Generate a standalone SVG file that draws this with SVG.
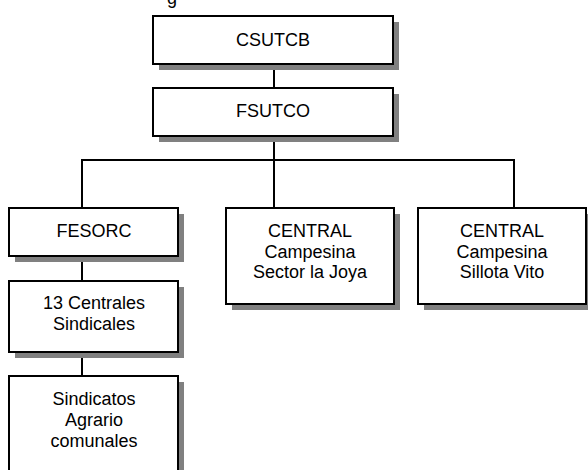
<svg xmlns="http://www.w3.org/2000/svg" width="588" height="470" viewBox="0 0 588 470">
<style>
  .box { fill: #ffffff; stroke: #000000; stroke-width: 2; }
  .shadow { fill: #808080; stroke: none; }
  .conn { stroke: #000000; stroke-width: 2; fill: none; }
  text { font-family: "Liberation Sans", Arial, sans-serif; font-size: 18px; fill: #000000; text-anchor: middle; }
</style>
<rect x="0" y="0" width="588" height="470" fill="#ffffff"/>
<text x="167" y="3.5" style="text-anchor:start">g</text>
<g id="connectors">
  <line class="conn" x1="274" y1="64" x2="274" y2="88"/>
  <line class="conn" x1="274" y1="136" x2="274" y2="208"/>
  <line class="conn" x1="81" y1="160" x2="515" y2="160"/>
  <line class="conn" x1="82" y1="160" x2="82" y2="208"/>
  <line class="conn" x1="514" y1="160" x2="514" y2="208"/>
  <line class="conn" x1="82" y1="256" x2="82" y2="281"/>
  <line class="conn" x1="82" y1="352" x2="82" y2="376"/>
</g>
<g id="csutcb">
  <rect class="shadow" fill="#808080" x="159" y="22" width="240" height="48"/>
  <rect class="box" x="153" y="16" width="240" height="48"/>
  <text x="273" y="46">CSUTCB</text>
</g>
<g id="fsutco">
  <rect class="shadow" fill="#808080" x="159" y="94" width="240" height="48"/>
  <rect class="box" x="153" y="88" width="240" height="48"/>
  <text x="273" y="117">FSUTCO</text>
</g>
<g id="fesorc">
  <rect class="shadow" fill="#808080" x="15" y="214" width="169" height="48"/>
  <rect class="box" x="9" y="208" width="169" height="48"/>
  <text x="94" y="237">FESORC</text>
</g>
<g id="central-joya">
  <rect class="shadow" fill="#808080" x="232" y="214" width="168" height="96"/>
  <rect class="box" x="226" y="208" width="168" height="96"/>
  <text x="310" y="237">CENTRAL</text>
  <text x="310" y="258">Campesina</text>
  <text x="310" y="278">Sector la Joya</text>
</g>
<g id="central-sillota">
  <rect class="shadow" fill="#808080" x="424" y="214" width="168" height="96"/>
  <rect class="box" x="418" y="208" width="168" height="96"/>
  <text x="502" y="237">CENTRAL</text>
  <text x="502" y="258">Campesina</text>
  <text x="502" y="278">Sillota Vito</text>
</g>
<g id="centrales">
  <rect class="shadow" fill="#808080" x="15" y="287" width="169" height="71"/>
  <rect class="box" x="9" y="281" width="169" height="71"/>
  <text x="94" y="309">13 Centrales</text>
  <text x="94" y="330">Sindicales</text>
</g>
<g id="sindicatos">
  <rect class="shadow" fill="#808080" x="15" y="382" width="169" height="100"/>
  <rect class="box" x="9" y="376" width="169" height="100"/>
  <text x="94" y="405">Sindicatos</text>
  <text x="94" y="426">Agrario</text>
  <text x="94" y="447">comunales</text>
</g>
</svg>
